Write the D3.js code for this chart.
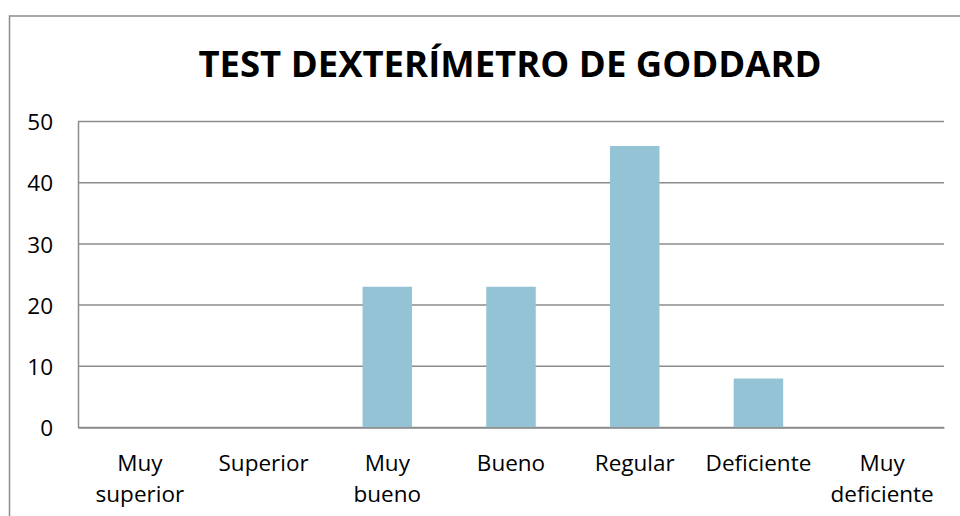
<!DOCTYPE html>
<html>
<head>
<meta charset="utf-8">
<script src="https://cdn.jsdelivr.net/npm/d3@7"></script>
<style>
html,body{margin:0;padding:0;background:#fff;}
svg{display:block;}
</style>
</head>
<body>
<svg id="chart" width="960" height="516"></svg>
<script>
const title = "TEST DEXTERÍMETRO DE GODDARD";
const categories = ["Muy superior", "Superior", "Muy bueno", "Bueno", "Regular", "Deficiente", "Muy deficiente"];
const categoryLines = [["Muy", "superior"], ["Superior"], ["Muy", "bueno"], ["Bueno"], ["Regular"], ["Deficiente"], ["Muy", "deficiente"]];
const values = [0, 0, 23, 23, 46, 8, 0];
const yTicks = [0, 10, 20, 30, 40, 50];

const svg = d3.select("#chart");
const W = 960, H = 516;
const plot = {left: 78, right: 944, top: 121.5, bottom: 427.5};
const font = "'Open Sans', 'Noto Sans', sans-serif";
const gridColor = "#8c8c8c";

svg.append("rect").attr("x", 0).attr("y", 0).attr("width", W).attr("height", H).attr("fill", "#fff");
// outer chart border
svg.append("rect").attr("x", 9.5).attr("y", 16).attr("width", 960).attr("height", 520)
  .attr("fill", "none").attr("stroke", gridColor).attr("stroke-width", 1.5);

const x = d3.scaleBand().domain(categories).range([plot.left, plot.right]).paddingInner(0.6).paddingOuter(0.3);
const y = d3.scaleLinear().domain([0, 50]).range([plot.bottom, plot.top]);

// gridlines
svg.append("g").selectAll("line").data(yTicks).join("line")
  .attr("x1", plot.left).attr("x2", plot.right)
  .attr("y1", d => y(d)).attr("y2", d => y(d))
  .attr("stroke", gridColor).attr("stroke-width", 1.5);

// y axis
const yAxis = svg.append("g").attr("transform", `translate(${plot.left},0)`)
  .call(d3.axisLeft(y).tickValues(yTicks).tickSize(0).tickPadding(25));
yAxis.select(".domain").attr("stroke", gridColor).attr("stroke-width", 1.5);
yAxis.selectAll("text").attr("font-family", font).attr("font-size", 22.5).attr("fill", "#000").attr("dy", "0.36em");

// bars
svg.append("g").selectAll("rect").data(values).join("rect")
  .attr("x", (d, i) => x(categories[i]))
  .attr("width", x.bandwidth())
  .attr("y", d => y(d))
  .attr("height", d => y(0) - y(d))
  .attr("fill", "#93c3d5");

// x axis labels
const xAxis = svg.append("g").attr("transform", `translate(0,${plot.bottom})`)
  .call(d3.axisBottom(x).tickSize(0).tickFormat(""));
xAxis.select(".domain").attr("stroke", gridColor).attr("stroke-width", 1.5);
xAxis.selectAll(".tick").each(function(d, i) {
  const t = d3.select(this).append("text")
    .attr("font-family", font).attr("font-size", 22.5).attr("fill", "#000")
    .attr("text-anchor", "middle").attr("y", 43);
  categoryLines[i].forEach((ln, k) => {
    t.append("tspan").attr("x", 0).attr("dy", k === 0 ? 0 : 31).text(ln);
  });
});

// title
svg.append("text").attr("x", 510).attr("y", 77).attr("text-anchor", "middle")
  .attr("font-family", font).attr("font-weight", "bold").attr("font-size", 36.5)
  .attr("fill", "#000").text(title);
</script>
</body>
</html>
